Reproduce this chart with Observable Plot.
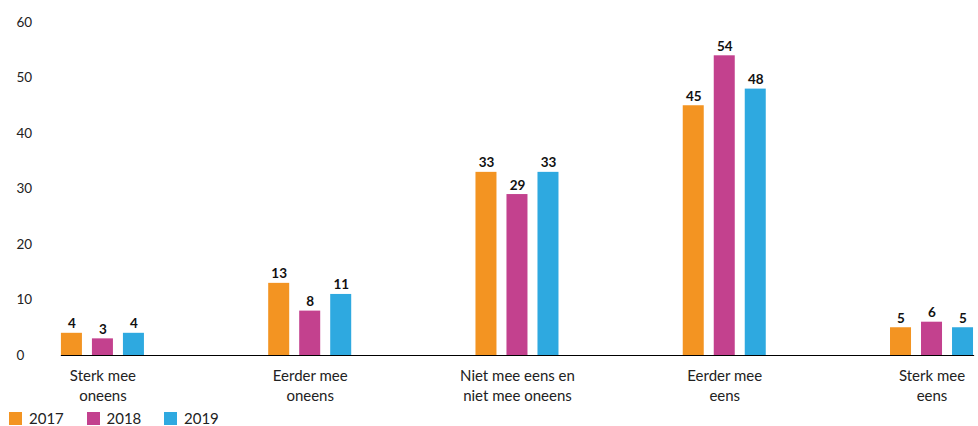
<!DOCTYPE html>
<html>
<head>
<meta charset="utf-8">
<script src="https://cdn.jsdelivr.net/npm/d3@7"></script>
<script src="https://cdn.jsdelivr.net/npm/@observablehq/plot@0.6"></script>
<style>
  html, body { margin: 0; padding: 0; background: #fff; overflow: hidden; }
  #chart svg { display: block; }
  #legend { display: flex; padding-left: 9px; margin-top: 5px; font-family: Lato, "Open Sans", sans-serif; font-size: 15px; line-height: 15px; color: #222; }
  .item { display: flex; align-items: center; width: 77.5px; height: 15px; }
  .sw { width: 13px; height: 13px; margin-right: 7px; flex: none; }
</style>
</head>
<body>
<div id="chart"></div>
<div id="legend"></div>
<script>
const categories = ["Sterk mee oneens", "Eerder mee oneens", "Niet mee eens en niet mee oneens", "Eerder mee eens", "Sterk mee eens"];
const categoryLabels = ["Sterk mee\noneens", "Eerder mee\noneens", "Niet mee eens en\nniet mee oneens", "Eerder mee\neens", "Sterk mee\neens"];
const years = ["2017", "2018", "2019"];
const values2017 = [4, 13, 33, 45, 5];
const values2018 = [3, 8, 29, 54, 6];
const values2019 = [4, 11, 33, 48, 5];
const yTicks = [0, 10, 20, 30, 40, 50, 60];
const colors = ["#f39422", "#c3418e", "#2ea9e0"];

const series = [values2017, values2018, values2019];
const rows = [];
categories.forEach((c, i) => years.forEach((y, j) => rows.push({category: c, year: y, value: series[j][i]})));
const labelRows = categories.map((c, i) => ({category: c, label: categoryLabels[i]}));

const chart = Plot.plot({
  width: 978,
  height: 406,
  marginLeft: 46,
  marginRight: 0,
  marginTop: 22,
  marginBottom: 51,
  style: {fontFamily: "Lato, 'Open Sans', sans-serif", color: "#1a1a1a", background: "#fff"},
  fx: {domain: categories, paddingInner: 0.5995, paddingOuter: 0.048, align: 0.75, round: false, axis: null, label: null},
  x: {domain: years, paddingInner: 10 / 31, paddingOuter: 0, round: false, axis: null},
  y: {domain: [0, 60], axis: null},
  color: {domain: years, range: colors},
  marks: [
    Plot.axisY(yTicks, {tickSize: 0, textAnchor: "start", dx: -36, fontSize: 13.5, fill: "#222", label: null}),
    Plot.barY(rows, {fx: "category", x: "year", y: "value", fill: "year"}),
    Plot.text(rows, {fx: "category", x: "year", y: "value", text: d => String(d.value), lineAnchor: "bottom", dy: -5, fontSize: 13.5, fontWeight: "bold", fill: "#111"}),
    Plot.text(labelRows, {fx: "category", text: "label", frameAnchor: "bottom", lineAnchor: "top", dy: 11, fontSize: 15, lineHeight: 1.33, fill: "#222"}),
    Plot.frame({anchor: "bottom", facet: "super", stroke: "#000", strokeWidth: 1.2})
  ]
});
document.getElementById("chart").append(chart);

const legend = document.getElementById("legend");
years.forEach((y, j) => {
  const it = document.createElement("div");
  it.className = "item";
  const sw = document.createElement("span");
  sw.className = "sw";
  sw.style.background = colors[j];
  const t = document.createElement("span");
  t.textContent = y;
  it.append(sw, t);
  legend.append(it);
});
</script>
</body>
</html>
